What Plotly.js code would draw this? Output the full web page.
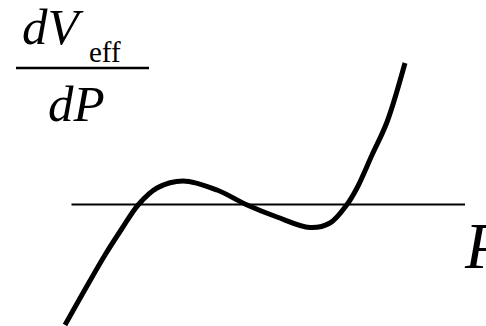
<!DOCTYPE html>
<html>
<head>
<meta charset="utf-8">
<script src="https://cdn.plot.ly/plotly-3.0.1.min.js"></script>
<style>
  html, body { margin: 0; padding: 0; background: #ffffff; }
  #chart { width: 486px; height: 326px; }
</style>
</head>
<body>
<div id="chart"></div>
<script>
// dV_eff/dP sketched against P: a cubic-like curve crossing zero three times.
const curveP = [65, 85, 105, 122, 138.5, 157, 183, 217, 246, 277, 310, 330, 347, 357, 372, 387, 405];
const curveDV = [-120.5, -85, -50.5, -24, 0, 16.5, 23.5, 14.5, 0, -12.5, -23, -18.5, 0, 16.5, 49.5, 82.5, 141.5];

// Horizontal P axis (dV_eff/dP = 0)
const axisP = [71.5, 465];
const axisDV = [0, 0];

const W = 486, H = 326;
const px = v => v / W;
const py = v => 1 - v / H;
const serif = "'Liberation Serif', 'Times New Roman', Times, serif";

const traces = [
  {
    x: axisP, y: axisDV, mode: 'lines', type: 'scatter',
    line: { color: '#000000', width: 2 }, hoverinfo: 'skip'
  },
  {
    x: curveP, y: curveDV, mode: 'lines', type: 'scatter',
    line: { color: '#000000', width: 5, shape: 'spline', smoothing: 1 },
    hoverinfo: 'skip'
  }
];

const layout = {
  width: W, height: H,
  margin: { l: 0, r: 0, t: 0, b: 0, pad: 0 },
  paper_bgcolor: '#ffffff', plot_bgcolor: '#ffffff',
  showlegend: false,
  xaxis: { range: [0, 486], visible: false, fixedrange: true },
  yaxis: { range: [-121.5, 204.5], visible: false, fixedrange: true },
  shapes: [
    { type: 'line', xref: 'paper', yref: 'paper',
      x0: px(16), x1: px(149), y0: py(68), y1: py(68),
      line: { color: '#000000', width: 2.5 } }
  ],
  annotations: [
    { text: '<i>dV</i>', xref: 'paper', yref: 'paper', x: px(20), y: py(27),
      xanchor: 'left', yanchor: 'middle', showarrow: false,
      font: { family: serif, size: 51, color: '#000000' } },
    { text: 'eff', xref: 'paper', yref: 'paper', x: px(87), y: py(52),
      xanchor: 'left', yanchor: 'middle', showarrow: false,
      font: { family: serif, size: 29, color: '#000000' } },
    { text: '<i>dP</i>', xref: 'paper', yref: 'paper', x: px(46), y: py(104),
      xanchor: 'left', yanchor: 'middle', showarrow: false,
      font: { family: serif, size: 51, color: '#000000' } },
    { text: '<i>P</i>', xref: 'paper', yref: 'paper', x: px(462), y: py(246),
      xanchor: 'left', yanchor: 'middle', showarrow: false,
      font: { family: serif, size: 65, color: '#000000' } }
  ]
};

Plotly.newPlot('chart', traces, layout, { displayModeBar: false, staticPlot: true });
</script>
</body>
</html>
